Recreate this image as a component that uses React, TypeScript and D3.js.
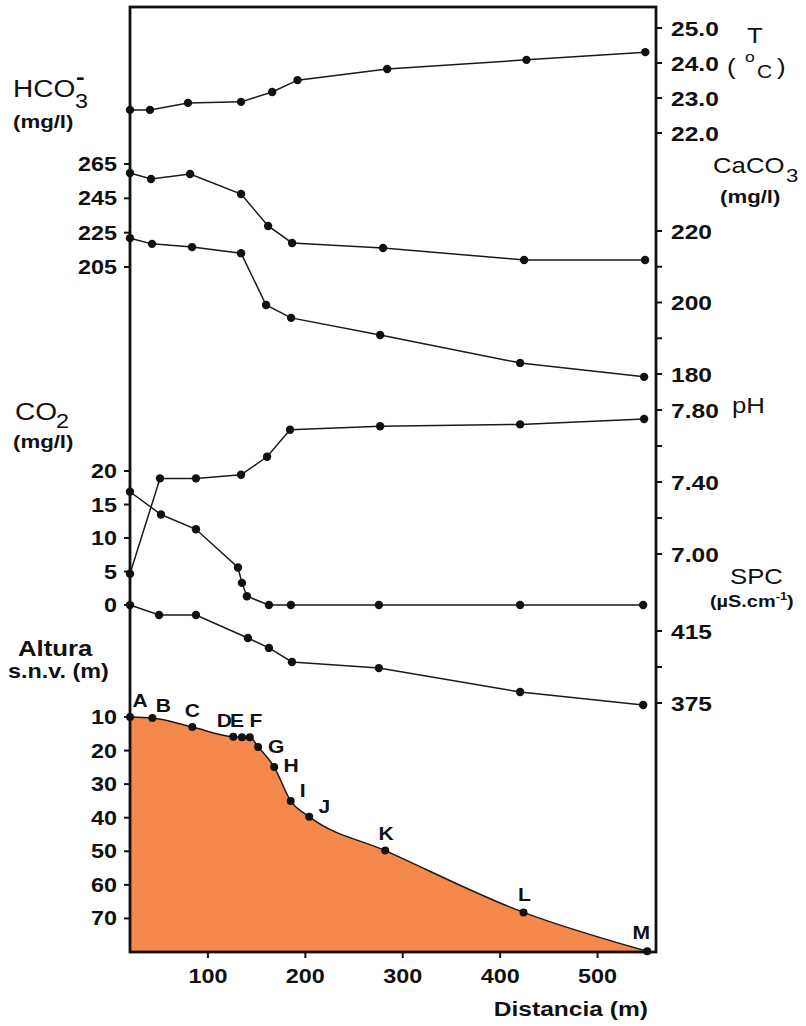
import React, { useEffect, useRef } from "react";
import * as d3 from "d3";

// sampling stations along the channel
const stations = ["A", "B", "C", "D", "E", "F", "G", "H", "I", "J", "K", "L", "M"];
const stationDist = [20, 43, 84, 126, 135, 143, 151.5, 168, 185, 204, 282, 424, 551];
const altitude = [10, 10.3, 13, 15.9, 16, 16, 18.9, 24.9, 35, 39.7, 49.8, 68.2, 79.8];

// water temperature (right axis)
const tempDist = [20, 40.5, 79.5, 134, 166, 192, 284, 427, 549];
const tempVal = [22.66, 22.66, 22.86, 22.89, 23.17, 23.51, 23.83, 24.09, 24.31];

// HCO3- (left axis)
const hco3Dist = [20, 41.6, 81.7, 134, 161.8, 186.4, 279.8, 424.6, 548.8];
const hco3Val = [259.8, 256.3, 259.2, 247.5, 228.9, 219, 216.1, 209.1, 209.1];

// CaCO3 (right axis)
const caco3Dist = [20, 42.6, 83.7, 134, 159.7, 185.4, 276.8, 420.5, 547.8];
const caco3Val = [218, 216.4, 215.5, 213.8, 199.3, 195.7, 190.9, 183.1, 179.2];

// pH (right axis)
const phDist = [20, 50.8, 87.7, 134, 160.7, 184.3, 276.8, 420.5, 547.8];
const phVal = [6.89, 7.42, 7.42, 7.44, 7.54, 7.69, 7.71, 7.72, 7.75];

// CO2 (left axis)
const co2Dist = [20, 51.8, 87.7, 130.8, 134.9, 140, 162.6, 185.2, 275.5, 420.5, 546.8];
const co2Val = [16.9, 13.5, 11.3, 5.6, 3.3, 1.3, 0, 0, 0, 0, 0];

// specific conductance (right axis)
const spcDist = [20, 49.8, 87.7, 141, 162.6, 186.2, 275.5, 420.5, 546.8];
const spcVal = [429.4, 423.9, 423.9, 411.1, 405.6, 397.8, 394.4, 381.1, 373.9];

// tick values
const distTicks = [100, 200, 300, 400, 500];
const hco3Ticks = [265, 245, 225, 205];
const co2Ticks = [20, 15, 10, 5, 0];
const altTicks = [10, 20, 30, 40, 50, 60, 70];
const tempTicks = [25, 24, 23, 22];
const caco3Ticks = [220, 210, 200, 190, 180];
const caco3Labels = [220, 200, 180];
const phTicks = [7.8, 7.6, 7.4, 7.2, 7.0];
const phLabels = [7.8, 7.4, 7.0];
const spcTicks = [415, 395, 375];
const spcLabels = [415, 375];

// label offsets of station letters (px)
const letterDx = [10, 11, 0, -9, -5, 6, 18, 17, 12, 15, 1, 1, -6];
const letterDy = [-10, -6, -10, -10, -10, -10, 6, 5, -4, -4, -11, -11, -12];

const W = 806;
const H = 1026;
const left = 130, right = 656, top = 7, bottom = 952;
const SX = 1.17;
const FONT = "'Liberation Sans', Arial, Helvetica, sans-serif";

function App() {
  const ref = useRef(null);

  useEffect(() => {
    const svg = d3.select(ref.current);
    svg.selectAll("*").remove();

    const x = d3.scaleLinear().domain([20, 560]).range([left, right]);
    const yT = d3.scaleLinear().domain([22, 25]).range([133, 28]);
    const yHco3 = d3.scaleLinear().domain([205, 265]).range([267, 164]);
    const yCaco3 = d3.scaleLinear().domain([180, 220]).range([374, 231]);
    const yPh = d3.scaleLinear().domain([7.0, 7.8]).range([554, 410]);
    const yCo2 = d3.scaleLinear().domain([0, 20]).range([605, 471]);
    const ySpc = d3.scaleLinear().domain([375, 415]).range([703, 631]);
    const yAlt = d3.scaleLinear().domain([10, 80]).range([717, bottom]);

    const text = (g, px, py, str, size, bold, anchor = "start") =>
      g.append("text")
        .attr("transform", "translate(" + px + "," + py + ") scale(" + SX + ",1)")
        .attr("text-anchor", anchor)
        .attr("font-family", FONT)
        .attr("font-size", size)
        .attr("font-weight", bold ? "bold" : "normal")
        .attr("fill", "#111")
        .text(str);

    // altitude profile
    const prof = stationDist.map((d, i) => ({ d: d, v: altitude[i], name: stations[i] }));
    const area = d3.area()
      .x(p => x(p.d))
      .y0(bottom)
      .y1(p => yAlt(p.v))
      .curve(d3.curveMonotoneX);
    svg.append("path").attr("d", area(prof)).attr("fill", "#f5894c");
    const profLine = d3.line().x(p => x(p.d)).y(p => yAlt(p.v)).curve(d3.curveMonotoneX);
    svg.append("path").attr("d", profLine(prof))
      .attr("fill", "none").attr("stroke", "#1a1a1a").attr("stroke-width", 1.5);
    svg.selectAll(".stdot").data(prof).enter().append("circle")
      .attr("cx", p => x(p.d)).attr("cy", p => yAlt(p.v)).attr("r", 4)
      .attr("fill", "#111");
    prof.forEach((p, i) => {
      text(svg, x(p.d) + letterDx[i], yAlt(p.v) + letterDy[i], p.name, 18, true, "middle");
    });

    // chemistry series
    const series = [
      [tempDist, tempVal, yT],
      [hco3Dist, hco3Val, yHco3],
      [caco3Dist, caco3Val, yCaco3],
      [phDist, phVal, yPh],
      [co2Dist, co2Val, yCo2],
      [spcDist, spcVal, ySpc]
    ];
    series.forEach(([ds, vs, y]) => {
      const pts = ds.map((d, i) => [x(d), y(vs[i])]);
      svg.append("path").attr("d", d3.line()(pts))
        .attr("fill", "none").attr("stroke", "#1a1a1a").attr("stroke-width", 1.5);
      svg.append("g").selectAll("circle").data(pts).enter().append("circle")
        .attr("cx", p => p[0]).attr("cy", p => p[1]).attr("r", 4.2).attr("fill", "#111");
    });

    // frame
    svg.append("rect")
      .attr("x", left).attr("y", top)
      .attr("width", right - left).attr("height", bottom - top)
      .attr("fill", "none").attr("stroke", "#111").attr("stroke-width", 2.8);

    // left ticks
    const leftAxis = (ticks, y, fmt) => {
      ticks.forEach(t => {
        svg.append("line").attr("x1", left - 6).attr("x2", left).attr("y1", y(t)).attr("y2", y(t))
          .attr("stroke", "#111").attr("stroke-width", 2);
        text(svg, 117, y(t) + 7, fmt(t), 20, true, "end");
      });
    };
    leftAxis(hco3Ticks, yHco3, d => String(d));
    leftAxis(co2Ticks, yCo2, d => String(d));
    leftAxis(altTicks, yAlt, d => String(d));

    // right ticks
    const rightAxis = (ticks, labels, y, fmt) => {
      ticks.forEach(t => {
        svg.append("line").attr("x1", right).attr("x2", right + 6).attr("y1", y(t)).attr("y2", y(t))
          .attr("stroke", "#111").attr("stroke-width", 2);
      });
      labels.forEach(t => text(svg, 671, y(t) + 7.5, fmt(t), 21, true));
    };
    rightAxis(tempTicks, tempTicks, yT, d => d.toFixed(1));
    rightAxis(caco3Ticks, caco3Labels, yCaco3, d => String(d));
    rightAxis(phTicks, phLabels, yPh, d => d.toFixed(2));
    rightAxis(spcTicks, spcLabels, ySpc, d => String(d));

    // bottom ticks
    distTicks.forEach(t => {
      svg.append("line").attr("x1", x(t)).attr("x2", x(t)).attr("y1", bottom).attr("y2", bottom + 6)
        .attr("stroke", "#111").attr("stroke-width", 2);
      text(svg, x(t), 983, String(t), 20, true, "middle");
    });
    text(svg, 648, 1016, "Distancia (m)", 21, true, "end");

    // left titles
    text(svg, 13, 97, "HCO", 24, false);
    text(svg, 75, 108, "3", 20, false);
    text(svg, 76, 84, "-", 22, true);
    text(svg, 13, 128, "(mg/l)", 19, true);
    text(svg, 15, 420, "CO", 24, false);
    text(svg, 56, 428, "2", 20, false);
    text(svg, 13, 448, "(mg/l)", 19, true);
    text(svg, 18, 656, "Altura", 22, true);
    text(svg, 8, 678, "s.n.v. (m)", 20, true);

    // right titles
    text(svg, 747, 43, "T", 22, false);
    text(svg, 727, 74, "(", 22, false);
    text(svg, 745, 62, "o", 15, false);
    text(svg, 757, 78, "C", 18, false);
    text(svg, 777, 74, ")", 22, false);
    text(svg, 713, 173, "CaCO", 22, false);
    text(svg, 786, 182, "3", 19, false);
    text(svg, 720, 203, "(mg/l)", 19, true);
    text(svg, 732, 413, "pH", 22, false);
    text(svg, 730, 584, "SPC", 22, false);
    const spcUnit = text(svg, 710, 607, "", 17, true);
    spcUnit.append("tspan").text("(µS.cm");
    spcUnit.append("tspan").attr("font-size", 11).attr("dy", -7).text("-1");
    spcUnit.append("tspan").attr("dy", 7).text(")");
  }, []);

  return (
    <svg ref={ref} width={W} height={H}
      style={{ position: "absolute", left: 0, top: 0, background: "#fff" }} />
  );
}

export default App;
